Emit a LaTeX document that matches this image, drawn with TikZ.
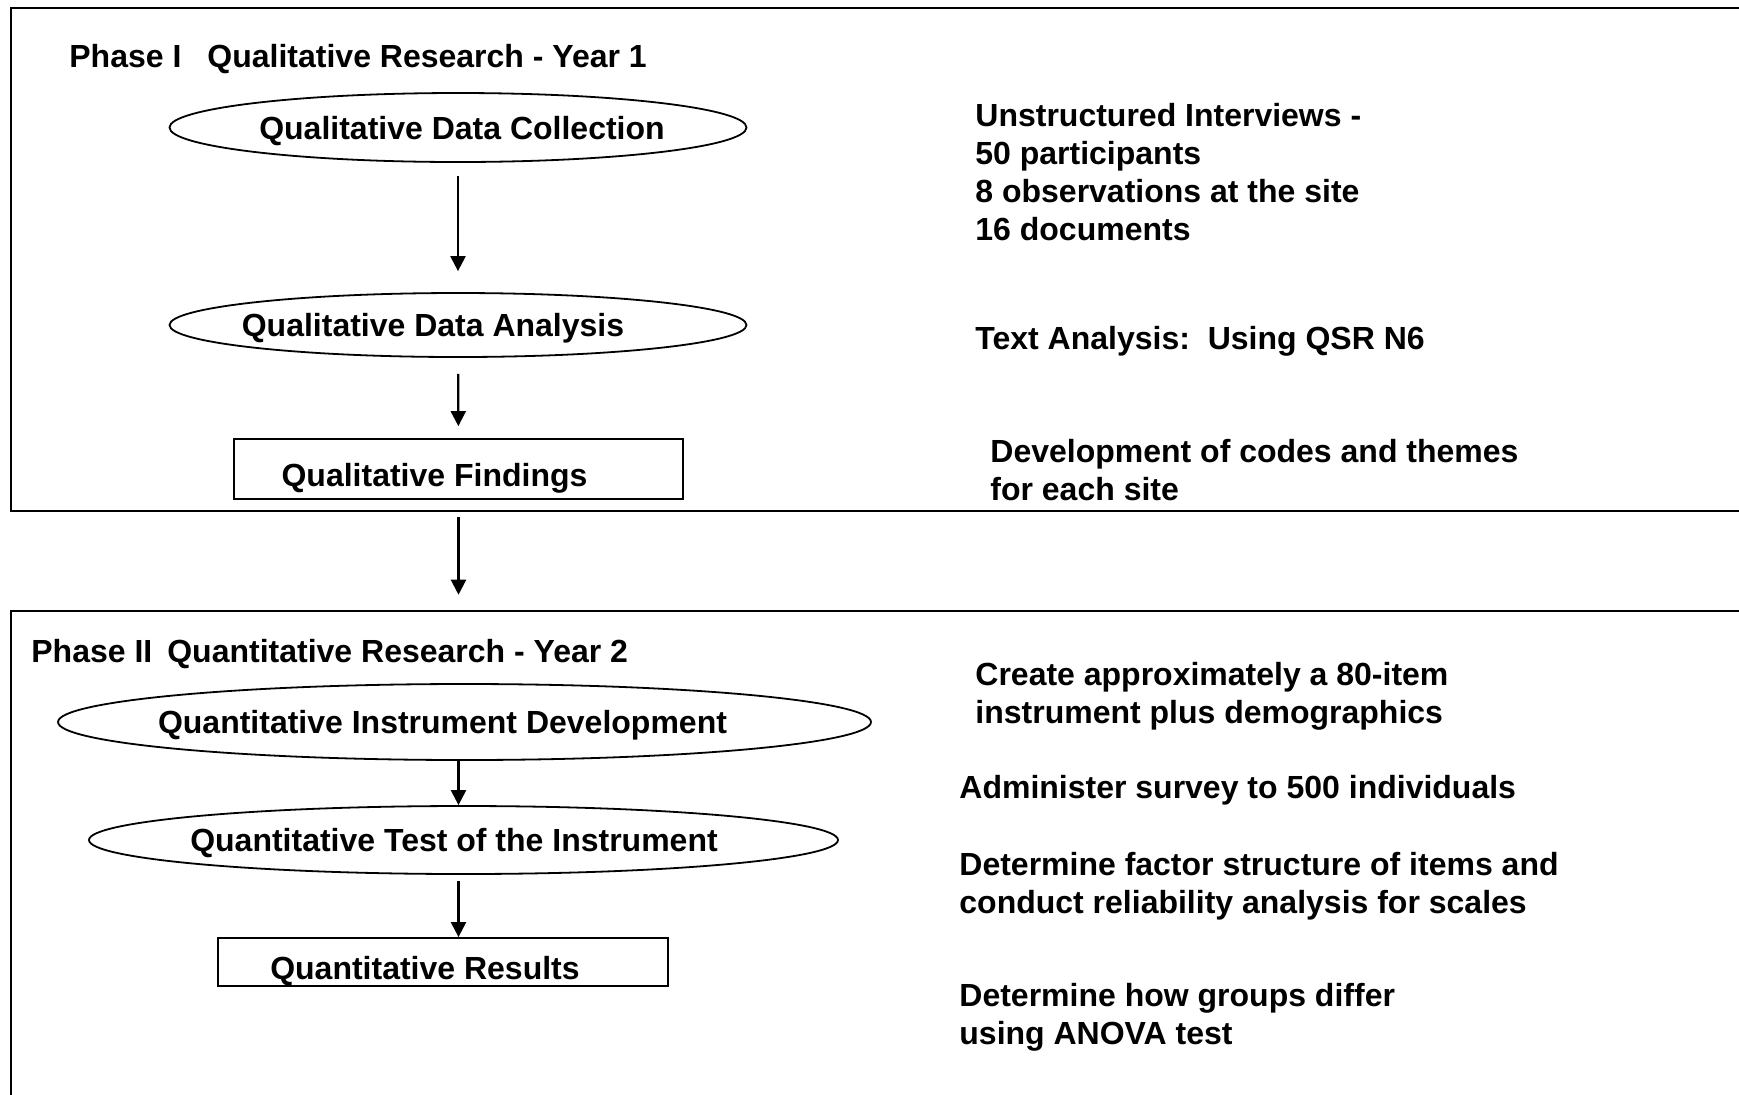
\documentclass[tikz,border=0pt]{standalone}
\usepackage{fontspec}
\setmainfont{Liberation Sans}
\usetikzlibrary{positioning, arrows.meta, shapes.geometric}

\begin{document}
\begin{tikzpicture}[x=0.5pt, y=-0.5pt, font=\bfseries\fontsize{16}{19}\selectfont]
	\tikzset{
		phasebox/.style={draw, line width=1.3pt, minimum width=875pt, inner sep=0pt},
		stage/.style={ellipse, draw, line width=0.9pt, inner sep=0pt},
		result/.style={rectangle, draw, line width=0.9pt, inner sep=0pt},
		note/.style={anchor=north west, align=left, inner sep=0pt},
		flow/.style={-{Triangle[width=7.5pt, length=7.5pt]}, line width=1.1pt}
	}
	\useasboundingbox (0,0) rectangle (1739,1094);
	\clip (0,0) rectangle (1739,1094);
	\node[phasebox, minimum height=251.5pt] (phaseI) at (886,259.5) {};
	\node[phasebox, minimum height=254.5pt] (phaseII) at (886,865.5) {};
	\node[note] (titleI) at (69,43.5) {Phase I\hspace{13pt}Qualitative Research - Year 1};
	\node[note] (titleII) at (31,638.5) {Phase II\hspace{7.5pt}Quantitative Research - Year 2};

	\node[stage, minimum width=288.5pt, minimum height=34.5pt,
		label={[xshift=2pt, yshift=-1.7pt]center:Qualitative Data Collection}] (collect) at (458,127.5) {};
	\node[stage, minimum width=288.5pt, minimum height=32pt,
		label={[xshift=-12.5pt, yshift=-1.7pt]center:Qualitative Data Analysis}] (analyse) at (458,325) {};
	\node[result, minimum width=224.5pt, minimum height=30pt,
		label={[xshift=-12pt, yshift=-4.7pt]center:Qualitative Findings}] (findings) at (458.5,469) {};
	\node[stage, minimum width=406.5pt, minimum height=38pt,
		label={[xshift=-11pt, yshift=-1.7pt]center:Quantitative Instrument Development}] (develop) at (464.5,722) {};
	\node[stage, minimum width=374.5pt, minimum height=34pt,
		label={[xshift=-4.75pt, yshift=-1.7pt]center:Quantitative Test of the Instrument}] (test) at (463.5,840) {};
	\node[result, minimum width=225pt, minimum height=24pt,
		label={[xshift=-9pt, yshift=-4.7pt]center:Quantitative Results}] (results) at (443,962) {};

	\draw[flow, shorten <=6.5pt, shorten >=10.5pt] (collect) -- (analyse);
	\draw[flow, shorten <=8pt, shorten >=6pt] (analyse) -- (findings);
	\draw[flow, shorten <=2.5pt, shorten >=7.5pt] (findings |- phaseI.south) -- (findings |- phaseII.north);
	\draw[flow] (develop.south -| findings) -- (test.north -| findings);
	\draw[flow, shorten <=3pt] (test.south -| findings) -- (results.north -| findings);

	\node[note] (interviews) at (975,102.5) {Unstructured Interviews -\\50 participants\\8 observations at the site\\16 documents};
	\node[note] (textan) at (975,325.5) {Text Analysis:\ \ Using QSR N6};
	\node[note] (codes) at (990,438.5) {Development of codes and themes\\for each site};
	\node[note] (create) at (975,661.5) {Create approximately a 80-item\\instrument plus demographics};
	\node[note] (survey) at (959,774.5) {Administer survey to 500 individuals};
	\node[note] (factor) at (959,851.5) {Determine factor structure of items and\\conduct reliability analysis for scales};
	\node[note] (anova) at (959,982.5) {Determine how groups differ\\using ANOVA test};
\end{tikzpicture}
\end{document}
